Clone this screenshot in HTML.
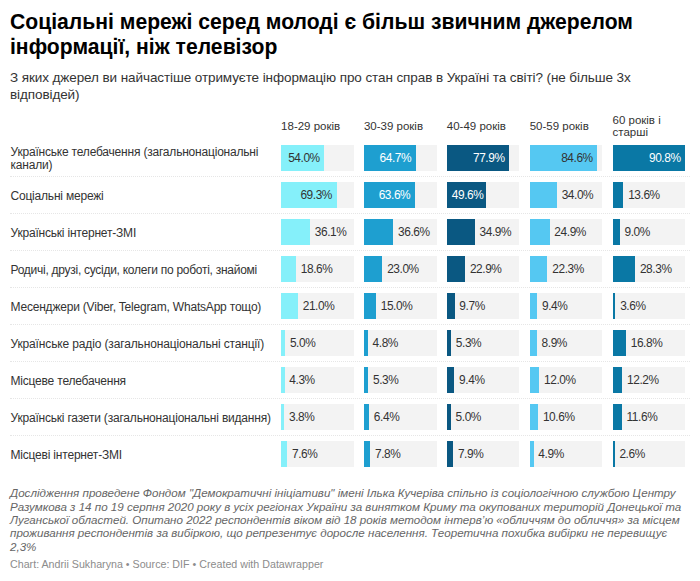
<!DOCTYPE html>
<html><head><meta charset="utf-8"><style>
html,body{margin:0;padding:0;background:#fff;width:700px;height:581px;overflow:hidden;position:relative}
body{font-family:"Liberation Sans",sans-serif}
.t{position:absolute;white-space:nowrap}
.bg{position:absolute;background:#f3f3f3}
.bar{position:absolute}
.sep{position:absolute;left:10px;width:680px;height:0;border-top:1px dotted #e6e6e6}
</style></head><body>
<div class="t" style="left:10px;top:8.68px;font-size:22px;line-height:26px;color:#000;font-weight:bold;font-style:normal;transform:scaleX(0.961);transform-origin:0 0">Соціальні мережі серед молоді є більш звичним джерелом</div>
<div class="t" style="left:10px;top:34.48px;font-size:22px;line-height:26px;color:#000;font-weight:bold;font-style:normal;transform:scaleX(0.961);transform-origin:0 0">інформації, ніж телевізор</div>
<div class="t" style="left:10px;top:70.12px;font-size:13.5px;line-height:16px;color:#333;font-weight:normal;font-style:normal;letter-spacing:-0.09px">З яких джерел ви найчастіше отримуєте інформацію про стан справ в Україні та світі? (не більше 3х</div>
<div class="t" style="left:10px;top:86.62px;font-size:13.5px;line-height:16px;color:#333;font-weight:normal;font-style:normal;letter-spacing:-0.09px">відповідей)</div>
<div class="t" style="left:281.1px;top:118.72px;font-size:11.5px;line-height:14px;color:#333;font-weight:normal;font-style:normal;">18-29 років</div>
<div class="t" style="left:363.95px;top:118.72px;font-size:11.5px;line-height:14px;color:#333;font-weight:normal;font-style:normal;">30-39 років</div>
<div class="t" style="left:446.8px;top:118.72px;font-size:11.5px;line-height:14px;color:#333;font-weight:normal;font-style:normal;">40-49 років</div>
<div class="t" style="left:529.65px;top:118.72px;font-size:11.5px;line-height:14px;color:#333;font-weight:normal;font-style:normal;">50-59 років</div>
<div class="t" style="left:612.5px;top:112.62px;font-size:11.5px;line-height:14px;color:#333;font-weight:normal;font-style:normal;">60 років і</div>
<div class="t" style="left:612.5px;top:125.42px;font-size:11.5px;line-height:14px;color:#333;font-weight:normal;font-style:normal;">старші</div>
<div class="t" style="left:10.5px;top:145.04px;font-size:12px;line-height:14px;color:#333;font-weight:normal;font-style:normal;letter-spacing:-0.2px">Українське телебачення (загальнонаціональні</div>
<div class="t" style="left:10.5px;top:158.24px;font-size:12px;line-height:14px;color:#333;font-weight:normal;font-style:normal;letter-spacing:-0.2px">канали)</div>
<div class="bg" style="left:281.1px;top:145px;width:72.6px;height:26px"></div>
<div class="bar" style="left:281.1px;top:145px;width:43.18px;height:26px;background:#85f0fa"></div>
<div class="t" style="left:281.1px;width:38.68px;text-align:right;top:152.08px;font-size:11.9px;line-height:12px;color:#333;letter-spacing:-0.42px">54.0%</div>
<div class="bg" style="left:363.95px;top:145px;width:72.6px;height:26px"></div>
<div class="bar" style="left:363.95px;top:145px;width:51.73px;height:26px;background:#1e9fd0"></div>
<div class="t" style="left:363.95px;width:47.23px;text-align:right;top:152.08px;font-size:11.9px;line-height:12px;color:#fff;letter-spacing:-0.42px">64.7%</div>
<div class="bg" style="left:446.8px;top:145px;width:72.6px;height:26px"></div>
<div class="bar" style="left:446.8px;top:145px;width:62.29px;height:26px;background:#0a5882"></div>
<div class="t" style="left:446.8px;width:57.79px;text-align:right;top:152.08px;font-size:11.9px;line-height:12px;color:#fff;letter-spacing:-0.42px">77.9%</div>
<div class="bg" style="left:529.65px;top:145px;width:72.6px;height:26px"></div>
<div class="bar" style="left:529.65px;top:145px;width:67.64px;height:26px;background:#55c8f2"></div>
<div class="t" style="left:529.65px;width:63.14px;text-align:right;top:152.08px;font-size:11.9px;line-height:12px;color:#333;letter-spacing:-0.42px">84.6%</div>
<div class="bg" style="left:612.5px;top:145px;width:72.6px;height:26px"></div>
<div class="bar" style="left:612.5px;top:145px;width:72.60px;height:26px;background:#0a78a5"></div>
<div class="t" style="left:612.5px;width:68.10px;text-align:right;top:152.08px;font-size:11.9px;line-height:12px;color:#fff;letter-spacing:-0.42px">90.8%</div>
<div class="sep" style="top:176px"></div>
<div class="t" style="left:10.5px;top:189.04px;font-size:12px;line-height:14px;color:#333;font-weight:normal;font-style:normal;letter-spacing:-0.2px">Соціальні мережі</div>
<div class="bg" style="left:281.1px;top:182px;width:72.6px;height:26px"></div>
<div class="bar" style="left:281.1px;top:182px;width:55.41px;height:26px;background:#85f0fa"></div>
<div class="t" style="left:281.1px;width:50.91px;text-align:right;top:189.08px;font-size:11.9px;line-height:12px;color:#333;letter-spacing:-0.42px">69.3%</div>
<div class="bg" style="left:363.95px;top:182px;width:72.6px;height:26px"></div>
<div class="bar" style="left:363.95px;top:182px;width:50.85px;height:26px;background:#1e9fd0"></div>
<div class="t" style="left:363.95px;width:46.35px;text-align:right;top:189.08px;font-size:11.9px;line-height:12px;color:#fff;letter-spacing:-0.42px">63.6%</div>
<div class="bg" style="left:446.8px;top:182px;width:72.6px;height:26px"></div>
<div class="bar" style="left:446.8px;top:182px;width:39.66px;height:26px;background:#0a5882"></div>
<div class="t" style="left:446.8px;width:36.66px;text-align:right;top:189.08px;font-size:11.9px;line-height:12px;color:#fff;letter-spacing:-0.42px">49.6%</div>
<div class="bg" style="left:529.65px;top:182px;width:72.6px;height:26px"></div>
<div class="bar" style="left:529.65px;top:182px;width:27.19px;height:26px;background:#55c8f2"></div>
<div class="t" style="left:561.64px;top:189.08px;font-size:11.9px;line-height:12px;color:#333;font-weight:normal;font-style:normal;letter-spacing:-0.42px">34.0%</div>
<div class="bg" style="left:612.5px;top:182px;width:72.6px;height:26px"></div>
<div class="bar" style="left:612.5px;top:182px;width:10.87px;height:26px;background:#0a78a5"></div>
<div class="t" style="left:628.17px;top:189.08px;font-size:11.9px;line-height:12px;color:#333;font-weight:normal;font-style:normal;letter-spacing:-0.42px">13.6%</div>
<div class="sep" style="top:213px"></div>
<div class="t" style="left:10.5px;top:226.04px;font-size:12px;line-height:14px;color:#333;font-weight:normal;font-style:normal;letter-spacing:-0.2px">Українські інтернет-ЗМІ</div>
<div class="bg" style="left:281.1px;top:219px;width:72.6px;height:26px"></div>
<div class="bar" style="left:281.1px;top:219px;width:28.86px;height:26px;background:#85f0fa"></div>
<div class="t" style="left:314.76px;top:226.08px;font-size:11.9px;line-height:12px;color:#333;font-weight:normal;font-style:normal;letter-spacing:-0.42px">36.1%</div>
<div class="bg" style="left:363.95px;top:219px;width:72.6px;height:26px"></div>
<div class="bar" style="left:363.95px;top:219px;width:29.26px;height:26px;background:#1e9fd0"></div>
<div class="t" style="left:398.01px;top:226.08px;font-size:11.9px;line-height:12px;color:#333;font-weight:normal;font-style:normal;letter-spacing:-0.42px">36.6%</div>
<div class="bg" style="left:446.8px;top:219px;width:72.6px;height:26px"></div>
<div class="bar" style="left:446.8px;top:219px;width:27.90px;height:26px;background:#0a5882"></div>
<div class="t" style="left:479.5px;top:226.08px;font-size:11.9px;line-height:12px;color:#333;font-weight:normal;font-style:normal;letter-spacing:-0.42px">34.9%</div>
<div class="bg" style="left:529.65px;top:219px;width:72.6px;height:26px"></div>
<div class="bar" style="left:529.65px;top:219px;width:19.91px;height:26px;background:#55c8f2"></div>
<div class="t" style="left:554.36px;top:226.08px;font-size:11.9px;line-height:12px;color:#333;font-weight:normal;font-style:normal;letter-spacing:-0.42px">24.9%</div>
<div class="bg" style="left:612.5px;top:219px;width:72.6px;height:26px"></div>
<div class="bar" style="left:612.5px;top:219px;width:7.20px;height:26px;background:#0a78a5"></div>
<div class="t" style="left:624.5px;top:226.08px;font-size:11.9px;line-height:12px;color:#333;font-weight:normal;font-style:normal;letter-spacing:-0.42px">9.0%</div>
<div class="sep" style="top:250px"></div>
<div class="t" style="left:10.5px;top:263.04px;font-size:12px;line-height:14px;color:#333;font-weight:normal;font-style:normal;letter-spacing:-0.27px">Родичі, друзі, сусіди, колеги по роботі, знайомі</div>
<div class="bg" style="left:281.1px;top:256px;width:72.6px;height:26px"></div>
<div class="bar" style="left:281.1px;top:256px;width:14.87px;height:26px;background:#85f0fa"></div>
<div class="t" style="left:300.77px;top:263.08px;font-size:11.9px;line-height:12px;color:#333;font-weight:normal;font-style:normal;letter-spacing:-0.42px">18.6%</div>
<div class="bg" style="left:363.95px;top:256px;width:72.6px;height:26px"></div>
<div class="bar" style="left:363.95px;top:256px;width:18.39px;height:26px;background:#1e9fd0"></div>
<div class="t" style="left:387.14px;top:263.08px;font-size:11.9px;line-height:12px;color:#333;font-weight:normal;font-style:normal;letter-spacing:-0.42px">23.0%</div>
<div class="bg" style="left:446.8px;top:256px;width:72.6px;height:26px"></div>
<div class="bar" style="left:446.8px;top:256px;width:18.31px;height:26px;background:#0a5882"></div>
<div class="t" style="left:469.91px;top:263.08px;font-size:11.9px;line-height:12px;color:#333;font-weight:normal;font-style:normal;letter-spacing:-0.42px">22.9%</div>
<div class="bg" style="left:529.65px;top:256px;width:72.6px;height:26px"></div>
<div class="bar" style="left:529.65px;top:256px;width:17.83px;height:26px;background:#55c8f2"></div>
<div class="t" style="left:552.28px;top:263.08px;font-size:11.9px;line-height:12px;color:#333;font-weight:normal;font-style:normal;letter-spacing:-0.42px">22.3%</div>
<div class="bg" style="left:612.5px;top:256px;width:72.6px;height:26px"></div>
<div class="bar" style="left:612.5px;top:256px;width:22.63px;height:26px;background:#0a78a5"></div>
<div class="t" style="left:639.93px;top:263.08px;font-size:11.9px;line-height:12px;color:#333;font-weight:normal;font-style:normal;letter-spacing:-0.42px">28.3%</div>
<div class="sep" style="top:287px"></div>
<div class="t" style="left:10.5px;top:300.04px;font-size:12px;line-height:14px;color:#333;font-weight:normal;font-style:normal;letter-spacing:-0.2px">Месенджери (Viber, Telegram, WhatsApp тощо)</div>
<div class="bg" style="left:281.1px;top:293px;width:72.6px;height:26px"></div>
<div class="bar" style="left:281.1px;top:293px;width:16.79px;height:26px;background:#85f0fa"></div>
<div class="t" style="left:302.69px;top:300.08px;font-size:11.9px;line-height:12px;color:#333;font-weight:normal;font-style:normal;letter-spacing:-0.42px">21.0%</div>
<div class="bg" style="left:363.95px;top:293px;width:72.6px;height:26px"></div>
<div class="bar" style="left:363.95px;top:293px;width:11.99px;height:26px;background:#1e9fd0"></div>
<div class="t" style="left:380.74px;top:300.08px;font-size:11.9px;line-height:12px;color:#333;font-weight:normal;font-style:normal;letter-spacing:-0.42px">15.0%</div>
<div class="bg" style="left:446.8px;top:293px;width:72.6px;height:26px"></div>
<div class="bar" style="left:446.8px;top:293px;width:7.76px;height:26px;background:#0a5882"></div>
<div class="t" style="left:459.36px;top:300.08px;font-size:11.9px;line-height:12px;color:#333;font-weight:normal;font-style:normal;letter-spacing:-0.42px">9.7%</div>
<div class="bg" style="left:529.65px;top:293px;width:72.6px;height:26px"></div>
<div class="bar" style="left:529.65px;top:293px;width:7.52px;height:26px;background:#55c8f2"></div>
<div class="t" style="left:541.97px;top:300.08px;font-size:11.9px;line-height:12px;color:#333;font-weight:normal;font-style:normal;letter-spacing:-0.42px">9.4%</div>
<div class="bg" style="left:612.5px;top:293px;width:72.6px;height:26px"></div>
<div class="bar" style="left:612.5px;top:293px;width:2.88px;height:26px;background:#0a78a5"></div>
<div class="t" style="left:620.18px;top:300.08px;font-size:11.9px;line-height:12px;color:#333;font-weight:normal;font-style:normal;letter-spacing:-0.42px">3.6%</div>
<div class="sep" style="top:324px"></div>
<div class="t" style="left:10.5px;top:337.04px;font-size:12px;line-height:14px;color:#333;font-weight:normal;font-style:normal;letter-spacing:-0.14px">Українське радіо (загальнонаціональні станції)</div>
<div class="bg" style="left:281.1px;top:330px;width:72.6px;height:26px"></div>
<div class="bar" style="left:281.1px;top:330px;width:4.00px;height:26px;background:#85f0fa"></div>
<div class="t" style="left:289.9px;top:337.08px;font-size:11.9px;line-height:12px;color:#333;font-weight:normal;font-style:normal;letter-spacing:-0.42px">5.0%</div>
<div class="bg" style="left:363.95px;top:330px;width:72.6px;height:26px"></div>
<div class="bar" style="left:363.95px;top:330px;width:3.84px;height:26px;background:#1e9fd0"></div>
<div class="t" style="left:372.59px;top:337.08px;font-size:11.9px;line-height:12px;color:#333;font-weight:normal;font-style:normal;letter-spacing:-0.42px">4.8%</div>
<div class="bg" style="left:446.8px;top:330px;width:72.6px;height:26px"></div>
<div class="bar" style="left:446.8px;top:330px;width:4.24px;height:26px;background:#0a5882"></div>
<div class="t" style="left:455.84px;top:337.08px;font-size:11.9px;line-height:12px;color:#333;font-weight:normal;font-style:normal;letter-spacing:-0.42px">5.3%</div>
<div class="bg" style="left:529.65px;top:330px;width:72.6px;height:26px"></div>
<div class="bar" style="left:529.65px;top:330px;width:7.12px;height:26px;background:#55c8f2"></div>
<div class="t" style="left:541.57px;top:337.08px;font-size:11.9px;line-height:12px;color:#333;font-weight:normal;font-style:normal;letter-spacing:-0.42px">8.9%</div>
<div class="bg" style="left:612.5px;top:330px;width:72.6px;height:26px"></div>
<div class="bar" style="left:612.5px;top:330px;width:13.43px;height:26px;background:#0a78a5"></div>
<div class="t" style="left:630.73px;top:337.08px;font-size:11.9px;line-height:12px;color:#333;font-weight:normal;font-style:normal;letter-spacing:-0.42px">16.8%</div>
<div class="sep" style="top:361px"></div>
<div class="t" style="left:10.5px;top:374.04px;font-size:12px;line-height:14px;color:#333;font-weight:normal;font-style:normal;letter-spacing:-0.2px">Місцеве телебачення</div>
<div class="bg" style="left:281.1px;top:367px;width:72.6px;height:26px"></div>
<div class="bar" style="left:281.1px;top:367px;width:3.44px;height:26px;background:#85f0fa"></div>
<div class="t" style="left:289.34px;top:374.08px;font-size:11.9px;line-height:12px;color:#333;font-weight:normal;font-style:normal;letter-spacing:-0.42px">4.3%</div>
<div class="bg" style="left:363.95px;top:367px;width:72.6px;height:26px"></div>
<div class="bar" style="left:363.95px;top:367px;width:4.24px;height:26px;background:#1e9fd0"></div>
<div class="t" style="left:372.99px;top:374.08px;font-size:11.9px;line-height:12px;color:#333;font-weight:normal;font-style:normal;letter-spacing:-0.42px">5.3%</div>
<div class="bg" style="left:446.8px;top:367px;width:72.6px;height:26px"></div>
<div class="bar" style="left:446.8px;top:367px;width:7.52px;height:26px;background:#0a5882"></div>
<div class="t" style="left:459.12px;top:374.08px;font-size:11.9px;line-height:12px;color:#333;font-weight:normal;font-style:normal;letter-spacing:-0.42px">9.4%</div>
<div class="bg" style="left:529.65px;top:367px;width:72.6px;height:26px"></div>
<div class="bar" style="left:529.65px;top:367px;width:9.59px;height:26px;background:#55c8f2"></div>
<div class="t" style="left:544.04px;top:374.08px;font-size:11.9px;line-height:12px;color:#333;font-weight:normal;font-style:normal;letter-spacing:-0.42px">12.0%</div>
<div class="bg" style="left:612.5px;top:367px;width:72.6px;height:26px"></div>
<div class="bar" style="left:612.5px;top:367px;width:9.75px;height:26px;background:#0a78a5"></div>
<div class="t" style="left:627.05px;top:374.08px;font-size:11.9px;line-height:12px;color:#333;font-weight:normal;font-style:normal;letter-spacing:-0.42px">12.2%</div>
<div class="sep" style="top:398px"></div>
<div class="t" style="left:10.5px;top:411.04px;font-size:12px;line-height:14px;color:#333;font-weight:normal;font-style:normal;letter-spacing:-0.2px">Українські газети (загальнонаціональні видання)</div>
<div class="bg" style="left:281.1px;top:404px;width:72.6px;height:26px"></div>
<div class="bar" style="left:281.1px;top:404px;width:3.04px;height:26px;background:#85f0fa"></div>
<div class="t" style="left:288.94px;top:411.08px;font-size:11.9px;line-height:12px;color:#333;font-weight:normal;font-style:normal;letter-spacing:-0.42px">3.8%</div>
<div class="bg" style="left:363.95px;top:404px;width:72.6px;height:26px"></div>
<div class="bar" style="left:363.95px;top:404px;width:5.12px;height:26px;background:#1e9fd0"></div>
<div class="t" style="left:373.87px;top:411.08px;font-size:11.9px;line-height:12px;color:#333;font-weight:normal;font-style:normal;letter-spacing:-0.42px">6.4%</div>
<div class="bg" style="left:446.8px;top:404px;width:72.6px;height:26px"></div>
<div class="bar" style="left:446.8px;top:404px;width:4.00px;height:26px;background:#0a5882"></div>
<div class="t" style="left:455.6px;top:411.08px;font-size:11.9px;line-height:12px;color:#333;font-weight:normal;font-style:normal;letter-spacing:-0.42px">5.0%</div>
<div class="bg" style="left:529.65px;top:404px;width:72.6px;height:26px"></div>
<div class="bar" style="left:529.65px;top:404px;width:8.48px;height:26px;background:#55c8f2"></div>
<div class="t" style="left:542.93px;top:411.08px;font-size:11.9px;line-height:12px;color:#333;font-weight:normal;font-style:normal;letter-spacing:-0.42px">10.6%</div>
<div class="bg" style="left:612.5px;top:404px;width:72.6px;height:26px"></div>
<div class="bar" style="left:612.5px;top:404px;width:9.27px;height:26px;background:#0a78a5"></div>
<div class="t" style="left:626.57px;top:411.08px;font-size:11.9px;line-height:12px;color:#333;font-weight:normal;font-style:normal;letter-spacing:-0.42px">11.6%</div>
<div class="sep" style="top:435px"></div>
<div class="t" style="left:10.5px;top:448.04px;font-size:12px;line-height:14px;color:#333;font-weight:normal;font-style:normal;letter-spacing:-0.2px">Місцеві інтернет-ЗМІ</div>
<div class="bg" style="left:281.1px;top:441px;width:72.6px;height:26px"></div>
<div class="bar" style="left:281.1px;top:441px;width:6.08px;height:26px;background:#85f0fa"></div>
<div class="t" style="left:291.98px;top:448.08px;font-size:11.9px;line-height:12px;color:#333;font-weight:normal;font-style:normal;letter-spacing:-0.42px">7.6%</div>
<div class="bg" style="left:363.95px;top:441px;width:72.6px;height:26px"></div>
<div class="bar" style="left:363.95px;top:441px;width:6.24px;height:26px;background:#1e9fd0"></div>
<div class="t" style="left:374.99px;top:448.08px;font-size:11.9px;line-height:12px;color:#333;font-weight:normal;font-style:normal;letter-spacing:-0.42px">7.8%</div>
<div class="bg" style="left:446.8px;top:441px;width:72.6px;height:26px"></div>
<div class="bar" style="left:446.8px;top:441px;width:6.32px;height:26px;background:#0a5882"></div>
<div class="t" style="left:457.92px;top:448.08px;font-size:11.9px;line-height:12px;color:#333;font-weight:normal;font-style:normal;letter-spacing:-0.42px">7.9%</div>
<div class="bg" style="left:529.65px;top:441px;width:72.6px;height:26px"></div>
<div class="bar" style="left:529.65px;top:441px;width:3.92px;height:26px;background:#55c8f2"></div>
<div class="t" style="left:538.37px;top:448.08px;font-size:11.9px;line-height:12px;color:#333;font-weight:normal;font-style:normal;letter-spacing:-0.42px">4.9%</div>
<div class="bg" style="left:612.5px;top:441px;width:72.6px;height:26px"></div>
<div class="bar" style="left:612.5px;top:441px;width:2.08px;height:26px;background:#0a78a5"></div>
<div class="t" style="left:619.38px;top:448.08px;font-size:11.9px;line-height:12px;color:#333;font-weight:normal;font-style:normal;letter-spacing:-0.42px">2.6%</div>
<div class="t" style="left:10px;top:486.18px;font-size:11.6px;line-height:14px;color:#666;font-weight:normal;font-style:italic;">Дослідження проведене Фондом "Демократичні ініціативи" імені Ілька Кучеріва спільно із соціологічною службою Центру</div>
<div class="t" style="left:10px;top:499.58px;font-size:11.6px;line-height:14px;color:#666;font-weight:normal;font-style:italic;">Разумкова з 14 по 19 серпня 2020 року в усіх регіонах України за винятком Криму та окупованих територій Донецької та</div>
<div class="t" style="left:10px;top:512.78px;font-size:11.6px;line-height:14px;color:#666;font-weight:normal;font-style:italic;">Луганської областей. Опитано 2022 респондентів віком від 18 років методом інтерв’ю «обличчям до обличчя» за місцем</div>
<div class="t" style="left:10px;top:526.18px;font-size:11.6px;line-height:14px;color:#666;font-weight:normal;font-style:italic;">проживання респондентів за вибіркою, що репрезентує доросле населення. Теоретична похибка вибірки не перевищує</div>
<div class="t" style="left:10px;top:539.78px;font-size:11.6px;line-height:14px;color:#666;font-weight:normal;font-style:italic;">2,3%</div>
<div class="t" style="left:10px;top:558.29px;font-size:10.7px;line-height:13px;color:#8c8c8c;font-weight:normal;font-style:normal;">Chart: Andrii Sukharyna • Source: DIF • Created with Datawrapper</div>
</body></html>
